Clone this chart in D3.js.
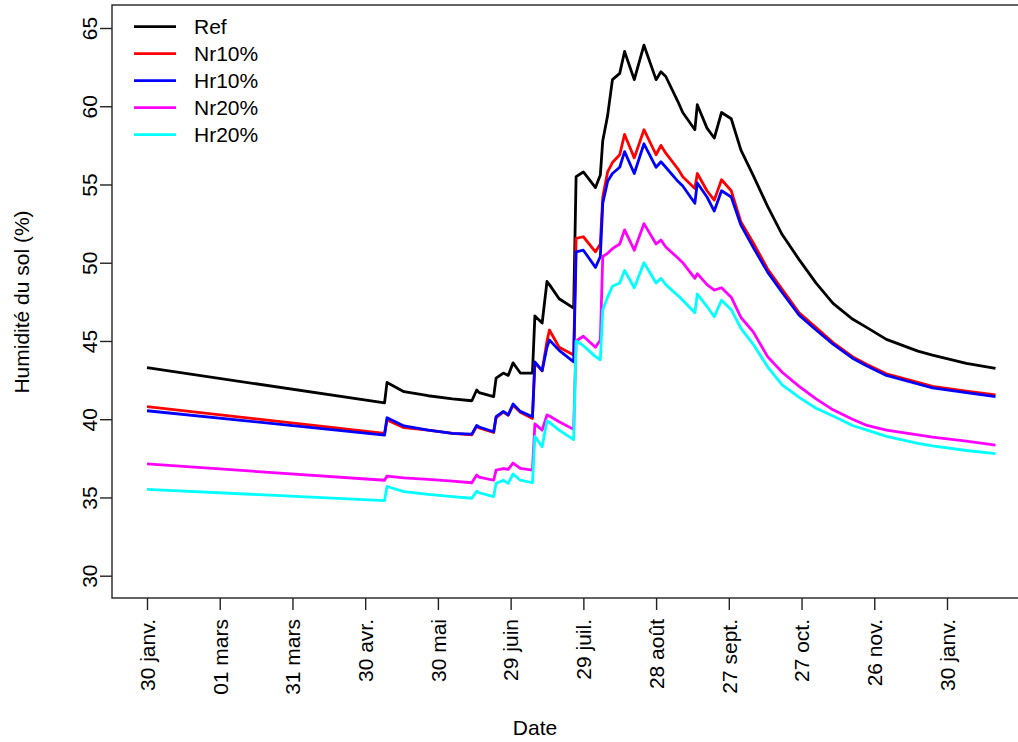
<!DOCTYPE html>
<html><head><meta charset="utf-8">
<script src="https://cdn.jsdelivr.net/npm/d3@7"></script>
<style>
body{margin:0;background:#fff;}
svg text{font-family:"Liberation Sans",Arial,sans-serif;}
</style></head>
<body>
<svg id="chart" width="1018" height="742"></svg>
<script>
// Day index (0 = 30 janv.)
const days = [0,98,99,106,116,126,134,136,137,143,144,147,149,151,154,159,160,163,165,166,170,176,177,180,185,187,188,190,192,195,197,201,205,210,212,214,219,221,226,227,231,234,237,241,245,250,256,262,269,276,283,291,297,305,318,324,338,350];

const ref   = [43.29,41.05,42.35,41.76,41.5,41.3,41.18,41.87,41.7,41.44,42.63,42.95,42.8,43.6,42.95,42.95,46.6,46.15,48.8,48.6,47.7,47.1,55.5,55.8,54.8,55.6,57.8,59.4,61.7,62.1,63.5,61.7,63.9,61.7,62.2,61.9,60.3,59.6,58.5,60.1,58.6,57.97,59.6,59.2,57.2,55.6,53.6,51.8,50.2,48.7,47.4,46.4,45.85,45.1,44.35,44.1,43.57,43.25];
const nr10  = [40.8,39.1,39.95,39.46,39.3,39.1,39.0,39.55,39.45,39.15,40.1,40.45,40.25,40.9,40.45,40.05,43.6,43.1,45.0,45.7,44.6,44.1,51.55,51.66,50.7,51.2,54.2,55.8,56.4,56.9,58.2,56.7,58.5,56.9,57.5,57.0,56.0,55.5,54.75,55.7,54.6,54.0,55.3,54.6,52.6,51.3,49.6,48.3,46.8,45.85,44.9,44.0,43.5,42.9,42.35,42.1,41.8,41.55];
const hr10  = [40.54,38.99,40.1,39.57,39.3,39.1,39.05,39.6,39.5,39.2,40.16,40.5,40.27,40.97,40.5,40.16,43.67,43.1,44.6,45.06,44.4,43.67,50.7,50.8,49.7,50.4,53.8,55.2,55.7,56.1,57.1,55.7,57.6,56.1,56.45,56.1,55.2,54.9,53.8,55.1,54.2,53.3,54.6,54.2,52.4,51.0,49.4,48.1,46.65,45.7,44.8,43.9,43.4,42.8,42.25,42.0,41.7,41.44];
const nr20  = [37.14,36.1,36.37,36.25,36.15,36.05,35.94,36.43,36.3,36.1,36.75,36.85,36.8,37.2,36.86,36.75,39.7,39.3,40.27,40.2,39.84,39.35,45.0,45.3,44.6,45.06,50.4,50.6,50.9,51.2,52.1,50.8,52.5,51.2,51.45,51.0,50.3,50.0,49.0,49.3,48.6,48.25,48.4,47.8,46.5,45.6,44.0,43.0,42.1,41.3,40.6,40.0,39.6,39.3,39.0,38.85,38.6,38.35];
const hr20  = [35.52,34.8,35.7,35.37,35.2,35.05,34.95,35.4,35.3,35.05,35.9,36.1,35.9,36.5,36.1,35.94,38.9,38.24,39.9,39.8,39.3,38.7,45.0,44.7,44.0,43.8,47.0,47.8,48.5,48.7,49.5,48.4,50.0,48.7,49.0,48.6,47.9,47.6,46.8,48.0,47.2,46.55,47.6,47.0,45.8,44.8,43.35,42.2,41.4,40.7,40.2,39.6,39.3,38.9,38.46,38.3,38.0,37.8];

const seriesNames  = ["Ref","Nr10%","Hr10%","Nr20%","Hr20%"];
const seriesColors = ["#000000","#ff0000","#0000ff","#ff00ff","#00ffff"];
const seriesValues = [ref, nr10, hr10, nr20, hr20];

const tickDays   = [0,30,60,90,120,150,180,210,240,270,300,330];
const tickLabels = ["30 janv.","01 mars","31 mars","30 avr.","30 mai","29 juin","29 juil.","28 août","27 sept.","27 oct.","26 nov.","30 janv."];
const yTicks = [30,35,40,45,50,55,60,65];

const svg = d3.select("#chart");
const plot = {left:112, top:5, bottom:598, right:1040};
const FS = 21;

const x = d3.scaleLinear().domain([0,330]).range([147,947]);
const y = d3.scaleLinear().domain([30,65]).range([575.7,28]);

const line = d3.line().x((d,i)=>x(days[i])).y(d=>y(d));

// lines
svg.append("g").selectAll("path").data(seriesValues).join("path")
  .attr("d", d=>line(d))
  .attr("fill","none")
  .attr("stroke",(d,i)=>seriesColors[i])
  .attr("stroke-width",2.8)
  .attr("stroke-linejoin","round");

// box
svg.append("rect").attr("x",plot.left).attr("y",plot.top)
  .attr("width",plot.right-plot.left).attr("height",plot.bottom-plot.top)
  .attr("fill","none").attr("stroke","#222").attr("stroke-width",1.4);

// x axis
const xa = svg.append("g").attr("transform",`translate(0,${plot.bottom})`)
  .call(d3.axisBottom(x).tickValues(tickDays).tickFormat((d,i)=>tickLabels[i]).tickSize(12).tickSizeOuter(0));
xa.select(".domain").remove();
xa.selectAll(".tick line").attr("stroke","#222").attr("stroke-width",1.4);
xa.selectAll(".tick text")
  .attr("font-size",FS).attr("fill","#000")
  .attr("text-anchor","end")
  .attr("transform","rotate(-90)")
  .attr("x",-21).attr("y",0).attr("dy","0.35em");

// y axis
const ya = svg.append("g").attr("transform",`translate(${plot.left},0)`)
  .call(d3.axisLeft(y).tickValues(yTicks).tickFormat(d3.format("d")).tickSize(12).tickSizeOuter(0));
ya.select(".domain").remove();
ya.selectAll(".tick line").attr("stroke","#222").attr("stroke-width",1.4);
ya.selectAll(".tick text")
  .attr("font-size",FS).attr("fill","#000")
  .attr("text-anchor","middle")
  .attr("transform","rotate(-90)")
  .attr("x",0).attr("y",-15).attr("dy",0);

// axis titles
svg.append("text").attr("x",535).attr("y",735).attr("text-anchor","middle")
  .attr("font-size",FS).text("Date");
svg.append("text").attr("transform","translate(29,302) rotate(-90)").attr("text-anchor","middle")
  .attr("font-size",FS).text("Humidité du sol (%)");

// legend
const lg = svg.append("g");
seriesNames.forEach((n,i)=>{
  const ly = 26.7 + i*27;
  lg.append("line").attr("x1",134).attr("x2",176).attr("y1",ly).attr("y2",ly)
    .attr("stroke",seriesColors[i]).attr("stroke-width",2.8);
  lg.append("text").attr("x",194).attr("y",ly).attr("dy","0.36em")
    .attr("font-size",FS).text(n);
});
</script>
</body></html>
